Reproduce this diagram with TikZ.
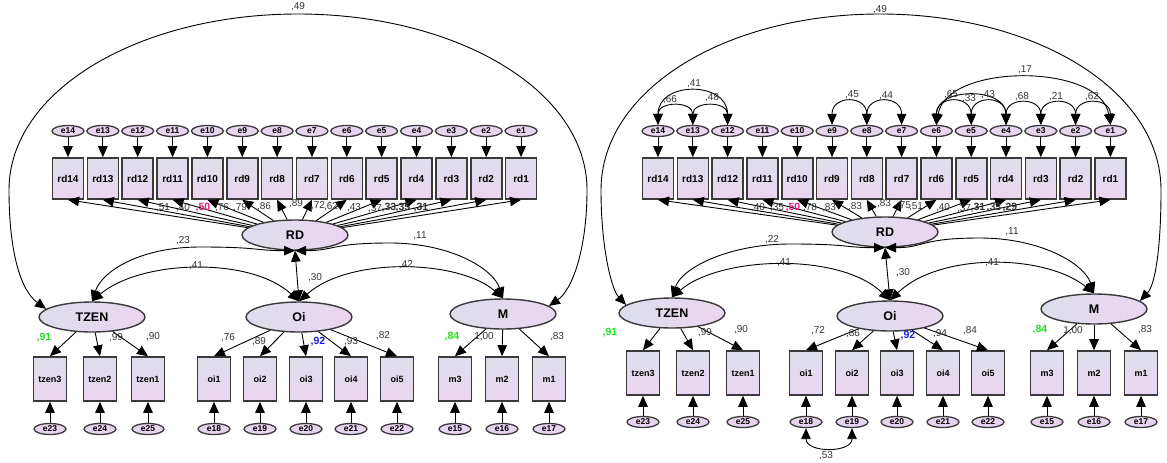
\documentclass[tikz,border=0pt]{standalone}
\usepackage{fontspec}
\setmainfont{Liberation Sans}
\usetikzlibrary{arrows.meta,shapes.geometric}
\definecolor{shadeA}{HTML}{DCDEEB}
\definecolor{shadeB}{HTML}{EAD5F0}
\definecolor{errfill}{HTML}{E7D5EF}
\definecolor{edge}{HTML}{3A3A3A}
\definecolor{loadpink}{HTML}{F0157F}
\definecolor{loadgreen}{HTML}{22DD22}
\definecolor{loadblue}{HTML}{1F1FE0}
\tikzset{
  tip/.style={-{Triangle[length=11pt,width=9.5pt]}},
  both/.style={{Triangle[length=11pt,width=9.5pt]}-{Triangle[length=11pt,width=9.5pt]}},
  conn/.style={draw=black, line width=0.9pt},
  latent/.style={ellipse, draw=edge, line width=1.4pt, minimum width=106pt, minimum height=30pt,
    inner sep=0pt, left color=shadeA, right color=shadeB, font=\fontsize{12.5}{12.5}\selectfont\bfseries},
  item/.style={rectangle, draw=edge, line width=1.6pt, minimum width=31pt, minimum height=41pt,
    inner sep=0pt, top color=shadeA, bottom color=shadeB, font=\fontsize{10}{10}\selectfont\bfseries},
  itemlow/.style={item, minimum width=33pt, minimum height=44pt, font=\fontsize{9}{9}\selectfont\bfseries},
  err/.style={ellipse, draw=edge, line width=1.3pt, minimum width=32pt, minimum height=11pt,
    inner sep=0pt, fill=errfill, font=\fontsize{8.5}{8.5}\selectfont\bfseries},
  coef/.style={font=\fontsize{10}{10}\selectfont, text=black!80, inner sep=0pt},
  coefbold/.style={coef, font=\fontsize{10.5}{10.5}\selectfont\bfseries},
}
\begin{document}
\begin{tikzpicture}[x=1pt,y=-1pt]
\useasboundingbox (0,0) rectangle (1167,463);

% ================= first model =================
\node[latent] (LRD) at (295,235) {RD};
\node[latent] (LTZEN) at (92,317) {TZEN};
\node[latent] (LOi) at (299,317) {Oi};
\node[latent] (LM) at (503,314) {M};

\foreach \i in {1,...,14}{
  \pgfmathsetmacro\xx{68+34.85*(14-\i)}
  \node[err] (Le\i) at (\xx,131) {e\i};
  \node[item] (Lrd\i) at (\xx,178.5) {rd\i};
  \draw[conn,tip] (Le\i) -- (Lrd\i);
  \draw[conn,tip] (LRD) -- (Lrd\i.south);
}

% indicators of TZEN, Oi and M
\foreach \nm/\en/\xx in {tzen3/23/50, tzen2/24/100, tzen1/25/148,
    oi1/18/214, oi2/19/260, oi3/20/306, oi4/21/351, oi5/22/397,
    m3/15/455, m2/16/502, m1/17/549}{
  \node[itemlow] (L\nm) at (\xx,379) {\nm};
  \node[err] (Le\en) at (\xx,429) {e\en};
  \draw[conn,tip] (Le\en) -- (L\nm);
}
\foreach \nm in {tzen3,tzen2,tzen1}{\draw[conn,tip] (LTZEN) -- (L\nm.north);}
\foreach \nm in {oi1,oi2,oi3,oi4,oi5}{\draw[conn,tip] (LOi) -- (L\nm.north);}
\foreach \nm in {m3,m2,m1}{\draw[conn,tip] (LM) -- (L\nm.north);}

% covariances between factors
\draw[conn,both] (LTZEN.170) .. controls (20,290) and (9,250) .. (9,190)
  .. controls (9,90) and (140,14) .. (298,14)
  .. controls (456,14) and (587,90) .. (587,190)
  .. controls (587,250) and (572,290) .. (LM.10);
\draw[conn,both] (LRD.south) .. controls +(-40,0) and +(60,0) .. (200,247)
  .. controls +(-60,0) and +(10,-30) .. (LTZEN.north);
\draw[conn,both] (LRD.south) .. controls +(40,0) and +(-60,0) .. (390,243)
  .. controls +(60,0) and +(-10,-30) .. (LM.north);
\draw[conn,both] (LTZEN.north) .. controls (140,260) and (250,256) .. (LOi.north);
\draw[conn,both] (LOi.north) .. controls (350,256) and (460,260) .. (LM.north);
\draw[conn,both] (LRD.south) -- (LOi.north);

\node[coef] (Lc49) at (298,7) {,49};
\node[coef] (Lc23) at (183,241) {,23};
\node[coef] (Lc11) at (420,236) {,11};
\node[coef] (Lc41) at (196,266) {,41};
\node[coef] (Lc42) at (406,265) {,42};
\node[coef] (Lc30) at (315,278) {,30};

% loadings of RD
\node[coef] (Ll14) at (163,208) {,51};
\node[coef] (Ll13) at (183,208) {,40};
\node[coefbold,text=loadpink] (Ll12) at (203,208) {,50};
\node[coef] (Ll11) at (222,208) {,76};
\node[coef] (Ll10) at (240,208) {,79};
\node[coef] (Ll9) at (264,207) {,86};
\node[coef] (Ll8) at (296,204) {,89};
\node[coef] (Ll7) at (318,206) {,72};
\node[coef] (Ll6) at (331,207) {,62};
\node[coef] (Ll5) at (354,208) {,43};
\node[coef] (Ll4) at (375,209) {,37};
\node[coefbold] (Ll3) at (389,208) {,33};
\node[coefbold] (Ll2) at (403,208) {,35};
\node[coefbold] (Ll1) at (421,208) {,31};

% loadings of the other factors
\node[coefbold,text=loadgreen] (Lt3) at (44,338) {,91};
\node[coef] (Lt2) at (116,338) {,99};
\node[coef] (Lt1) at (153,337) {,90};
\node[coef] (Lo1) at (228,338) {,76};
\node[coef] (Lo2) at (259,342) {,89};
\node[coefbold,text=loadblue] (Lo3) at (318,342) {,92};
\node[coef] (Lo4) at (351,342) {,93};
\node[coef] (Lo5) at (383,336) {,82};
\node[coefbold,text=loadgreen] (Lm3) at (452,337) {,84};
\node[coef] (Lm2) at (484,337) {1,00};
\node[coef] (Lm1) at (557,337) {,83};

% ================= second model =================
\node[latent] (RRD) at (885,232) {RD};
\node[latent] (RTZEN) at (672,313) {TZEN};
\node[latent] (ROi) at (890,316) {Oi};
\node[latent] (RM) at (1094,309) {M};

\foreach \i in {1,...,14}{
  \pgfmathsetmacro\xx{658+34.8*(14-\i)}
  \node[err] (Re\i) at (\xx,131) {e\i};
  \node[item] (Rrd\i) at (\xx,178.5) {rd\i};
  \draw[conn,tip] (Re\i) -- (Rrd\i);
  \draw[conn,tip] (RRD) -- (Rrd\i.south);
}

\foreach \nm/\en/\xx in {tzen3/23/643, tzen2/24/693, tzen1/25/743,
    oi1/18/806, oi2/19/852, oi3/20/897, oi4/21/943, oi5/22/988,
    m3/15/1047, m2/16/1094, m1/17/1141}{
  \node[itemlow] (R\nm) at (\xx,373) {\nm};
  \node[err] (Re\en) at (\xx,422) {e\en};
  \draw[conn,tip] (Re\en) -- (R\nm);
}
\foreach \nm in {tzen3,tzen2,tzen1}{\draw[conn,tip] (RTZEN) -- (R\nm.north);}
\foreach \nm in {oi1,oi2,oi3,oi4,oi5}{\draw[conn,tip] (ROi) -- (R\nm.north);}
\foreach \nm in {m3,m2,m1}{\draw[conn,tip] (RM) -- (R\nm.north);}

\draw[conn,both] (RTZEN.170) .. controls (612,290) and (601,250) .. (601,190)
  .. controls (601,90) and (725,14) .. (880,14)
  .. controls (1035,14) and (1161,90) .. (1161,190)
  .. controls (1161,250) and (1155,285) .. (RM.10);
\draw[conn,both] (RRD.south) .. controls +(-40,0) and +(60,0) .. (790,244)
  .. controls +(-60,0) and +(10,-30) .. (RTZEN.north);
\draw[conn,both] (RRD.south) .. controls +(40,0) and +(-60,0) .. (980,238)
  .. controls +(60,0) and +(-10,-30) .. (RM.north);
\draw[conn,both] (RTZEN.north) .. controls (720,256) and (840,252) .. (ROi.north);
\draw[conn,both] (ROi.north) .. controls (940,252) and (1045,254) .. (RM.north);
\draw[conn,both] (RRD.south) -- (ROi.north);

% correlated errors
\draw[conn,both] (Re14.north) .. controls +(0,-24) and +(0,-24) .. (Re13.north);
\draw[conn,both] (Re13.north) .. controls +(0,-24) and +(0,-24) .. (Re12.north);
\draw[conn,both] (Re14.north) .. controls +(0,-44) and +(0,-44) .. (Re12.north);
\draw[conn,both] (Re9.north) .. controls +(0,-30) and +(0,-30) .. (Re8.north);
\draw[conn,both] (Re8.north) .. controls +(0,-30) and +(0,-30) .. (Re7.north);
\draw[conn,both] (Re6.north) .. controls +(0,-30) and +(0,-30) .. (Re5.north);
\draw[conn,both] (Re6.north) .. controls +(0,-38) and +(0,-38) .. (Re4.north);
\draw[conn,both] (Re5.north) .. controls +(0,-30) and +(0,-30) .. (Re4.north);
\draw[conn,both] (Re4.north) .. controls +(0,-28) and +(0,-28) .. (Re3.north);
\draw[conn,both] (Re3.north) .. controls +(0,-28) and +(0,-28) .. (Re2.north);
\draw[conn,both] (Re2.north) .. controls +(0,-28) and +(0,-28) .. (Re1.north);
\draw[conn,both] (Re6.north) .. controls +(10,-62) and +(-10,-62) .. (Re1.north);
\draw[conn,both] (Re18.south) .. controls +(0,25) and +(0,25) .. (Re19.south);

\node[coef] (Rc49) at (880,10) {,49};
\node[coef] (Rc22) at (772,240) {,22};
\node[coef] (Rc11) at (1012,232) {,11};
\node[coef] (Rc41a) at (784,263) {,41};
\node[coef] (Rc41b) at (992,263) {,41};
\node[coef] (Rc30) at (903,273) {,30};

\node[coef] (Rk66) at (670,100) {,66};
\node[coef] (Rk41) at (694,84) {,41};
\node[coef] (Rk48) at (712,98) {,48};
\node[coef] (Rk45) at (852,95) {,45};
\node[coef] (Rk44) at (886,96) {,44};
\node[coef] (Rk65) at (951,95) {,65};
\node[coef] (Rk33) at (969,99) {,33};
\node[coef] (Rk43) at (988,95) {,43};
\node[coef] (Rk68) at (1022,97) {,68};
\node[coef] (Rk21) at (1056,97) {,21};
\node[coef] (Rk62) at (1092,97) {,62};
\node[coef] (Rk17) at (1025,70) {,17};
\node[coef] (Rk53) at (826,456) {,53};

\node[coef] (Rl14) at (758,208) {,40};
\node[coef] (Rl13) at (777,208) {,35};
\node[coefbold,text=loadpink] (Rl12) at (793,208) {,50};
\node[coef] (Rl11) at (810,208) {,78};
\node[coef] (Rl10) at (829,208) {,83};
\node[coef] (Rl9) at (855,207) {,83};
\node[coef] (Rl8) at (884,204) {,83};
\node[coef] (Rl7) at (904,206) {,75};
\node[coef] (Rl6) at (916,207) {,51};
\node[coef] (Rl5) at (943,208) {,40};
\node[coef] (Rl4) at (964,209) {,37};
\node[coefbold] (Rl3) at (978,208) {,31};
\node[coefbold] (Rl2) at (994,208) {,33};
\node[coefbold] (Rl1) at (1010,208) {,29};

\node[coefbold,text=loadgreen] (Rt3) at (610,333) {,91};
\node[coef] (Rt2) at (705,333) {,99};
\node[coef] (Rt1) at (741,330) {,90};
\node[coef] (Ro1) at (818,331) {,72};
\node[coef] (Ro2) at (853,334) {,86};
\node[coefbold,text=loadblue] (Ro3) at (908,336) {,92};
\node[coef] (Ro4) at (940,334) {,94};
\node[coef] (Ro5) at (970,331) {,84};
\node[coefbold,text=loadgreen] (Rm3) at (1040,330) {,84};
\node[coef] (Rm2) at (1073,331) {1,00};
\node[coef] (Rm1) at (1145,330) {,83};
\end{tikzpicture}
\end{document}
